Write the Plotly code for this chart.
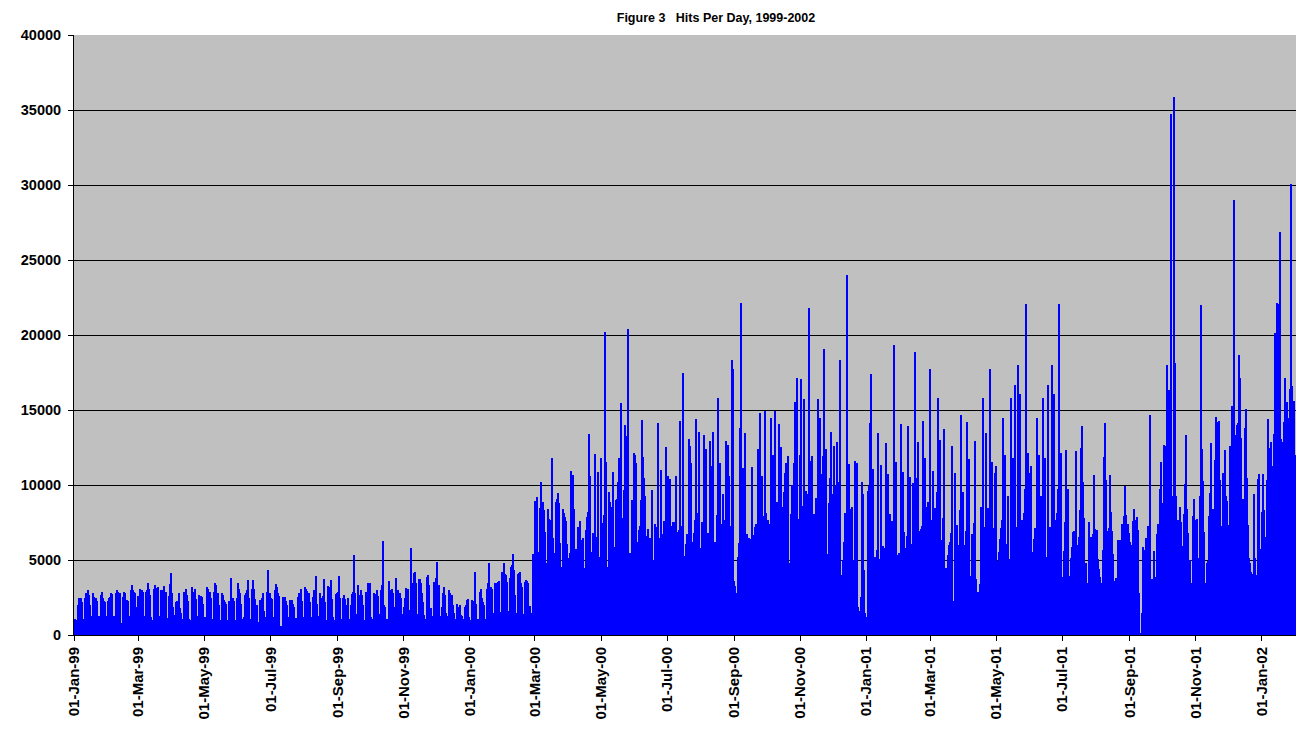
import pandas as pd
import plotly.graph_objects as go

# ---- Daily hits (1 Jan 1999 .. 1 Feb 2002) ----
# Jan 1999 - Feb 2000 (first 3 days Fri-Sun, then Mon..Sun weeks)
hits_jan99_feb00 = [
    1070, 980, 1000,
    2000, 2440, 2060, 2440, 2200, 1070, 1070,
    2440, 2800, 3000, 2700, 2000, 1300, 1240,
    2780, 2550, 2380, 2440, 2300, 1200, 1250,
    2660, 2890, 2450, 2300, 2200, 1300, 900,
    2300, 2450, 2550, 2800, 2750, 1300, 1100,
    2800, 3000, 2900, 2820, 2780, 600, 800,
    2550, 2900, 2820, 2350, 2300, 1300, 1200,
    3000, 3330, 3000, 2900, 2780, 1900, 700,
    2600, 3100, 2900, 3000, 2900, 1200, 1300,
    2850, 3000, 3440, 3100, 2700, 1200, 1000,
    3100, 3350, 3150, 2600, 3200, 1300, 1250,
    3000, 2750, 3000, 3250, 2850, 1150, 1050,
    2600, 3400, 4150, 2780, 1900, 1330, 900,
    2200, 2260, 2800, 1800, 1500, 1100, 1000,
    2840, 2550, 3100, 2700, 2300, 1100, 1000,
    3220, 2890, 2650, 3100, 2400, 1300, 1150,
    2700, 2600, 2600, 2550, 2100, 1200, 1000,
    3220, 3040, 2400, 2890, 2500, 1100, 1000,
    2890, 3490, 3350, 2780, 2000, 1000, 800,
    2780, 2660, 2330, 2200, 2100, 1000, 700,
    2260, 3770, 2500, 2440, 2300, 900, 1000,
    2500, 3490, 3040, 2780, 2100, 1100, 1200,
    2660, 2800, 3000, 3660, 2500, 1100, 1000,
    3100, 3660, 3040, 2380, 2000, 900, 500,
    2330, 2200, 2440, 2780, 1600, 1180, 1100,
    2840, 4330, 2820, 2500, 2380, 1200, 1180,
    3000, 3400, 3220, 2780, 2600, 450, 600,
    2550, 2440, 2550, 2300, 2000, 1050, 1200,
    2330, 2040, 2330, 2100, 1900, 1150, 1050,
    2550, 2780, 2820, 3100, 2300, 1100, 1200,
    3170, 3040, 2950, 2780, 2220, 1200, 1000,
    2550, 3000, 2440, 3930, 2100, 1300, 1200,
    2820, 2500, 2600, 3710, 2200, 1000, 900,
    3260, 3200, 3000, 3660, 2400, 1200, 1000,
    2730, 2800, 2900, 3930, 2500, 1100, 1000,
    2500, 2700, 2380, 2000, 2440, 1100, 1000,
    2000, 2730, 2890, 5330, 2780, 1100, 1400,
    3330, 2660, 3000, 2660, 2000, 1000, 550,
    2890, 2780, 3440, 2400, 3490, 1200, 1100,
    2780, 2730, 2400, 3000, 2600, 1400, 1100,
    3000, 3330, 6260, 2000, 1900, 1100, 1000,
    3620, 3000, 2700, 3040, 2780, 1300, 1900,
    3770, 3000, 3000, 2800, 2500, 1100, 1400,
    1900, 2500, 3150, 3040, 3100, 1700, 1200,
    5800, 3440, 4150, 4200, 3500, 1400, 1270,
    3710, 3710, 3440, 2780, 2200, 1350, 1100,
    3840, 4000, 3330, 1600, 1800, 1300, 1200,
    3550, 3350, 3800, 4900, 3330, 1300, 300,
    1900, 2820, 3220, 2700, 1500, 1200, 1300,
    3000, 2780, 2660, 2000, 1500, 900, 1100,
    2060, 1900, 1670, 2000, 1330, 1270, 1100,
    1900, 2000, 2330, 2380, 1200, 500, 1000,
    2330, 2200, 2300, 4220, 2100, 1100, 1000,
    2890, 3100, 2440, 2200, 2000, 1100, 1000,
    3100, 3440, 4770, 3220, 3100, 1490, 1200,
    3440, 3490, 3300, 3550, 3600, 1500, 1550,
    4220, 4820, 4100, 4000, 3550, 1490, 1600,
    3770, 4550, 4700, 5400, 4330, 2700, 1440,
    4100, 4150, 4220, 3500, 3200, 1400, 1000,
    3550, 3660, 3620, 3440, 1950, 1500, 220,
]

# 28 Feb 2000 - 11 Jun 2000
hits_mar00_jun00 = [
    5400, 4550, 8930, 7670, 9220, 5000, 5550,
    8440, 10180, 8890, 8330, 6890, 4820, 4070,
    8400, 7730, 6550, 7670, 11820, 6440, 5500,
    8840, 9070, 9470, 8820, 6110, 4550, 4300,
    8400, 8150, 7890, 7580, 6070, 5110, 5440,
    10930, 6670, 10670, 8400, 5670, 5710, 3730,
    7200, 6780, 7600, 6330, 6440, 3660, 4500,
    7000, 7900, 8200, 13400, 10600, 4240, 5530,
    6800, 12070, 6550, 5780, 10890, 4800, 5200,
    11800, 7000, 7500, 8000, 20180, 11550, 4550,
    9550, 8890, 8510, 7890, 10890, 5440, 5890,
    9000, 9100, 10200, 11780, 15440, 5890, 7800,
    9670, 14000, 9270, 13270, 20380, 5330, 5500,
    5350, 9000, 12110, 12000, 11440, 4200, 6220,
    7000, 7270, 9000, 14330, 11890, 10440, 9270,
]

# 12 Jun 2000 - 14 Sep 2000
hits_jun00_sep00 = [
    6600, 7040, 6490, 6500, 5930, 9670, 5000, 4550, 7400, 7180,
    7070, 14110, 6440, 11000, 4440, 6730, 7600, 7180, 12550, 5600,
    10620, 4000, 10400, 7270, 7530, 7530, 3500, 10620, 6900, 6400,
    7000, 14270, 6070, 7300, 17470, 5270, 6070, 6730, 6470, 13070,
    12600, 11470, 3820, 6180, 6800, 7670, 14400, 8130, 13530, 4780,
    5800, 7530, 7330, 13330, 6330, 12400, 5600, 6800, 6730, 12930,
    11270, 13530, 4000, 6200, 5670, 8000, 15800, 6600, 11470, 4270,
    7400, 9400, 7670, 12930, 5560, 12670, 10600, 7270, 4000, 18330,
    17730, 3600, 3270, 2800, 5200, 6110, 13800, 22130, 7400, 11130,
    6330, 13470, 6330, 6730, 6470,
]

# 15 Sep 2000 - 23 Dec 2000
hits_sep00_dec00 = [
    6440, 6380, 11220, 4330, 6670, 7220, 7380, 5620, 12400, 7070,
    14780, 8000, 10600, 7930, 14950, 8110, 6490, 7670, 7330, 7400,
    14470, 7910, 12000, 4550, 14950, 8870, 7670, 14070, 7890, 12530,
    5820, 8530, 9560, 10800, 11470, 7070, 11910, 4820, 8070, 9980,
    9090, 11440, 15530, 11090, 17130, 6110, 7710, 12000, 17070, 8600,
    15730, 5710, 9600, 8150, 9400, 21800, 11600, 8600, 11930, 5400,
    8040, 9130, 8470, 15730, 10200, 14470, 5670, 10730, 11910, 19070,
    7270, 12400, 5380, 8800, 10470, 13510, 6730, 9400, 12600, 6730,
    9930, 12870, 9930, 10200, 18330, 4000, 5000, 6200, 8130, 7890,
    24000, 7200, 11400, 5000, 8400, 8530, 5000, 11600, 3670, 11470,
]

# 24 Dec 2000 - 31 Mar 2001
hits_dec00_mar01 = [
    1890, 1440, 1620, 2560, 10200, 9400, 4330, 1500, 1200, 9620,
    9930, 14110, 17400, 4930, 11070, 2160, 5220, 4890, 5670, 13440,
    5070, 11330, 5070, 5960, 5780, 4670, 12780, 5270, 10730, 4780,
    8070, 7130, 7600, 19330, 8730, 11530, 3890, 5330, 5470, 2620,
    14070, 5470, 10870, 6870, 5800, 6600, 13930, 8270, 10530, 3070,
    6070, 10130, 8470, 18870, 10470, 5600, 12870, 6930, 7070, 7270,
    14270, 6420, 11800, 5620, 8530, 8870, 7750, 17730, 7670, 10960,
    3620, 8470, 7930, 9530, 15800, 7400, 13000, 5330, 6330, 7800,
    13710, 4470, 2290, 5330, 6000, 6200, 6780, 12600, 2270, 1760,
    10800, 3270, 7330, 6000, 8330, 14670, 9530, 9530,
]

# 1 Apr 2001 - 9 Jul 2001
hits_apr01_jul01 = [
    6000, 3000, 6930, 14200, 6130, 11730, 3960, 6730, 6200, 7470,
    12930, 3730, 330, 2870, 2800, 3400, 8530, 8530, 15800, 7200,
    13470, 5930, 8470, 7670, 17730, 6330, 11530, 3270, 7130, 10800,
    11270, 4930, 5530, 6400, 7130, 7670, 14470, 7670, 12000, 4930,
    6070, 9270, 5070, 15800, 7600, 11800, 5200, 16670, 7200, 6930,
    18000, 7670, 16070, 3000, 7670, 8130, 9730, 22070, 9400, 12130,
    7670, 10800, 11270, 4870, 5530, 6400, 7130, 14470, 7670, 12000,
    4930, 9270, 8730, 15800, 7670, 11800, 5100, 5200, 16670, 7200,
    6930, 18000, 7670, 16070, 3000, 7670, 8130, 9730, 22070, 9400,
    12130, 3890, 5620, 7530, 12330, 8950, 9730, 3930, 3490, 5130,
]

# 10 Jul 2001 - 16 Oct 2001
hits_jul01_oct01 = [
    5900, 6850, 6920, 12250, 4790, 5970, 6520, 8340, 12490, 13910,
    10170, 7800, 4380, 4790, 3500, 7560, 6450, 6560, 6330, 6750,
    10640, 7090, 5710, 6990, 5070, 4380, 3890, 3500, 5660, 11900,
    14150, 10360, 6920, 4480, 7110, 10640, 8220, 6920, 5430, 3600,
    3770, 3500, 6330, 5430, 6330, 4910, 7370, 6260, 7940, 9950,
    8030, 7390, 6800, 6190, 5260, 5970, 7630, 8390, 7700, 5970,
    7870, 6990, 2770, 100, 1500, 5900, 5330, 5660, 6450, 5660,
    7280, 6450, 14670, 3010, 3720, 5570, 3890, 3500, 6750, 7390,
    4150, 9760, 11540, 8180, 8770, 12680, 12610, 17990, 15140, 16330,
    14860, 34720, 9290, 8030, 35900, 18130, 9290, 7560, 7680,
]

# 17 Oct 2001 - 1 Feb 2002
hits_oct01_feb02 = [
    8510, 7560, 5930, 5160, 8070, 10070, 13330, 8400, 6780, 4270,
    5000, 3500, 7930, 9040, 4930, 7670, 7710, 5040, 5110, 9270,
    22000, 12400, 10270, 6840, 3500, 4820, 4930, 7930, 9470, 12800,
    7890, 8400, 3820, 11670, 14530, 14200, 14290, 10330, 7290, 7000,
    10800, 10600, 12330, 9270, 8930, 6890, 7330, 12600, 15270, 9270,
    29000, 13330, 11000, 14000, 14130, 18670, 17130, 13130, 8000, 9070,
    13800, 15070, 10470, 7330, 5160, 4820, 4220, 4070, 3560, 9400,
    5160, 4000, 10380, 10730, 4130, 5730, 8200, 10730, 8330, 5930,
    6560, 10330, 14400, 12470, 12870, 11270, 10470, 13400, 20110, 16670,
    22110, 22070, 20400, 26870, 13070, 12870, 14200, 17130, 15180, 15530,
    14440, 8000, 16400, 30070, 16600, 12070, 15600, 12000,
]

y_ticks = [0, 5000, 10000, 15000, 20000, 25000, 30000, 35000, 40000]
title_text = "Figure 3\u00a0\u00a0\u00a0Hits Per Day, 1999-2002"

hits = (hits_jan99_feb00 + hits_mar00_jun00 + hits_jun00_sep00 + hits_sep00_dec00
        + hits_dec00_mar01 + hits_apr01_jul01 + hits_jul01_oct01 + hits_oct01_feb02)
dates = pd.date_range("1999-01-01", periods=len(hits), freq="D")

FONT = "Arial, 'Liberation Sans', Helvetica, sans-serif"

fig = go.Figure(go.Bar(
    x=dates, y=hits,
    marker=dict(color="#0000FF", line=dict(width=0)),
    hoverinfo="x+y",
))

fig.update_layout(
    width=1297, height=736,
    margin=dict(l=74, r=1, t=35, b=101),
    paper_bgcolor="#FFFFFF",
    plot_bgcolor="#C0C0C0",
    bargap=0,
    showlegend=False,
    font=dict(family=FONT, size=13, color="#000000"),
    title=dict(text="<b>" + title_text + "</b>", x=716 / 1297, xref="container",
               xanchor="center",
               y=1 - 18 / 736, yref="container", yanchor="middle",
               font=dict(family=FONT, size=12.5, color="#000000")),
)

fig.update_xaxes(
    type="date",
    range=[dates[0] - pd.Timedelta(hours=12), dates[-1] + pd.Timedelta(hours=12)],
    tick0="1999-01-01", dtick="M2", tickformat="%d-%b-%y",
    tickangle=-90,
    tickfont=dict(family=FONT, size=15, color="#000000", weight="bold"),
    ticks="outside", ticklen=5, tickcolor="#000000",
    showline=True, linecolor="#000000", linewidth=1,
    showgrid=False, zeroline=False,
)

fig.update_yaxes(
    range=[0, 40000],
    tickvals=y_ticks,
    ticktext=[str(v) for v in y_ticks],
    tickfont=dict(family=FONT, size=14.5, color="#000000", weight="bold"),
    ticks="outside", ticklen=5, tickcolor="#000000",
    ticklabelstandoff=4,
    showline=True, linecolor="#000000", linewidth=1,
    showgrid=True, gridcolor="#000000", gridwidth=1,
    zeroline=False,
)

fig.write_html("out.html")
